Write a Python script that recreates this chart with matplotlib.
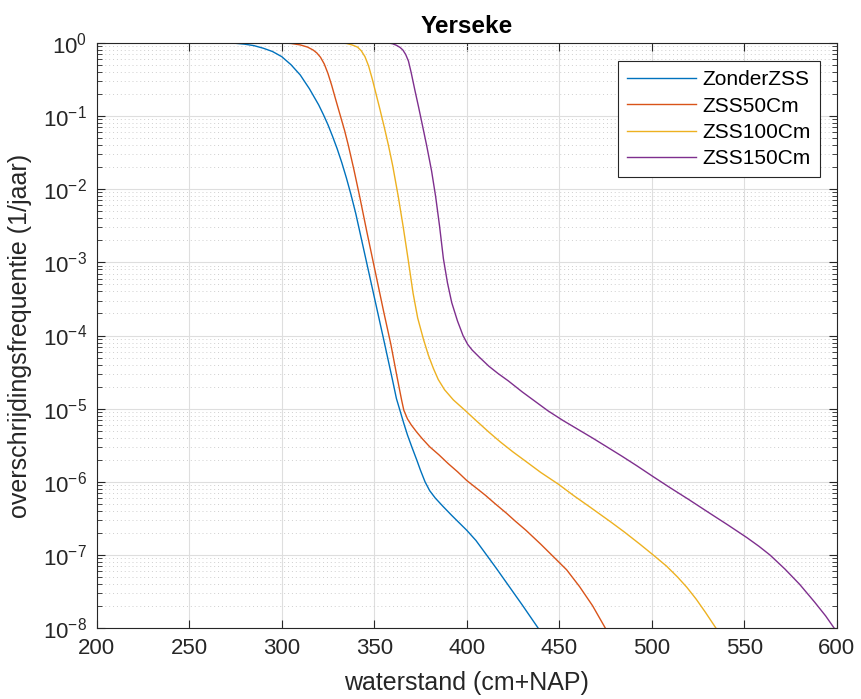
import numpy as np
import matplotlib
matplotlib.use("Agg")
import matplotlib.pyplot as plt
from matplotlib.ticker import FixedLocator, LogFormatterSciNotation, NullFormatter

plt.rcParams['font.family'] = ['Liberation Sans', 'DejaVu Sans']
plt.rcParams['mathtext.fontset'] = 'custom'
plt.rcParams['mathtext.rm'] = 'Liberation Sans'
plt.rcParams['mathtext.it'] = 'Liberation Sans:italic'

# waterstand (cm+NAP) and log10 of the exceedance frequency
zonder_x = [200, 260, 270, 275, 280, 285, 290, 295, 300, 305, 310, 315, 320, 322.5,
            325, 327.5, 330, 332.5, 335, 337.5, 340, 345, 350, 355, 360, 362, 364,
            366, 368, 370.3, 373, 375, 377.5, 380, 383, 387.4, 392, 396, 400, 405,
            410.8, 416, 423, 430, 438.7]
zonder_log = [0, 0, -0.003, -0.008, -0.02, -0.04, -0.075, -0.12, -0.19, -0.3,
              -0.44, -0.63, -0.85, -0.98, -1.12, -1.28, -1.45, -1.64, -1.85, -2.08,
              -2.33, -2.9, -3.47, -4.04, -4.62, -4.86, -5.03, -5.2, -5.36, -5.52,
              -5.7, -5.84, -6.0, -6.12, -6.22, -6.34, -6.46, -6.56, -6.66, -6.8,
              -7.0, -7.18, -7.43, -7.68, -8.0]

zss50_x = [200, 295, 300, 305, 310, 314, 317, 319, 321, 323, 325, 327, 329, 331.5,
           334, 336, 339, 342.3, 346, 350, 355, 359, 362, 364.8, 366, 368, 370, 373,
           376, 380, 385, 390, 395, 400, 405, 410, 415, 421.6, 426, 432, 440, 446.8,
           454, 461, 468, 475]
zss50_log = [0, 0, -0.003, -0.01, -0.03, -0.06, -0.1, -0.14, -0.2, -0.29, -0.42,
             -0.58, -0.76, -0.98, -1.2, -1.4, -1.73, -2.12, -2.58, -3.06, -3.66,
             -4.12, -4.52, -4.88, -5.02, -5.14, -5.22, -5.32, -5.41, -5.52, -5.63,
             -5.75, -5.86, -5.98, -6.08, -6.18, -6.29, -6.43, -6.53, -6.66, -6.85,
             -7.02, -7.2, -7.43, -7.69, -8.0]

zss100_x = [200, 330, 335, 338, 341, 343, 345, 347, 349, 351, 353, 355.5, 357.6,
            360, 363, 365.7, 368.4, 371, 373.5, 376.6, 379.3, 382, 384.6, 388,
            392.8, 399, 405, 412, 418, 425, 432, 440, 449.5, 458, 467, 477.5, 485,
            493.6, 500.9, 508, 514, 519, 524, 529, 534.8]
zss100_log = [0, 0, -0.01, -0.03, -0.06, -0.11, -0.19, -0.32, -0.5, -0.7, -0.9,
              -1.16, -1.39, -1.68, -2.1, -2.52, -2.97, -3.42, -3.76, -4.05, -4.27,
              -4.45, -4.6, -4.74, -4.88, -5.02, -5.16, -5.32, -5.45, -5.59, -5.72,
              -5.87, -6.03, -6.19, -6.35, -6.54, -6.68, -6.85, -7.0, -7.15, -7.3,
              -7.44, -7.6, -7.78, -8.0]

zss150_x = [200, 355, 358, 360, 362, 364, 365.5, 367, 368.5, 370, 372, 374, 376,
            378.4, 381, 383.2, 385.3, 387.4, 389.6, 391.9, 395, 398, 400.5, 403, 407,
            412, 417, 422.5, 430, 437, 444, 452, 460, 468, 475.7, 484, 492, 500.9,
            510, 520, 531.5, 541, 551.4, 558, 564, 572, 580, 588, 594, 598.7]
zss150_log = [0, 0, -0.005, -0.015, -0.035, -0.065, -0.1, -0.16, -0.25, -0.41,
              -0.65, -0.88, -1.12, -1.41, -1.75, -2.1, -2.5, -2.95, -3.28, -3.55,
              -3.8, -4.0, -4.12, -4.2, -4.3, -4.42, -4.52, -4.62, -4.77, -4.9, -5.03,
              -5.16, -5.28, -5.4, -5.52, -5.65, -5.78, -5.93, -6.08, -6.24, -6.43,
              -6.585, -6.76, -6.88, -7.0, -7.19, -7.4, -7.64, -7.83, -8.0]

series = [
    ("ZonderZSS", zonder_x, zonder_log, "#0072BD"),
    ("ZSS50Cm", zss50_x, zss50_log, "#D95319"),
    ("ZSS100Cm", zss100_x, zss100_log, "#EDB120"),
    ("ZSS150Cm", zss150_x, zss150_log, "#7E2F8E"),
]

x_ticks = [200, 250, 300, 350, 400, 450, 500, 550, 600]
y_decades = [-8, -7, -6, -5, -4, -3, -2, -1, 0]

fig = plt.figure(figsize=(8.61, 6.99), dpi=100)
ax = fig.add_axes([0.1123, 0.1011, 0.8595, 0.8378])

for name, xs, logs, col in series:
    ax.plot(xs, 10.0 ** np.array(logs), color=col, lw=1.0, label=name)

ax.set_yscale('log')
ax.set_xlim(200, 600)
ax.set_ylim(1e-8, 1e0)
ax.xaxis.set_major_locator(FixedLocator(x_ticks))
major_y = [10.0 ** d for d in y_decades]
minor_y = [m * 10.0 ** d for d in y_decades[:-1] for m in range(2, 10)]
ax.yaxis.set_major_locator(FixedLocator(major_y))
ax.yaxis.set_minor_locator(FixedLocator(minor_y))
ax.yaxis.set_major_formatter(LogFormatterSciNotation())
ax.yaxis.set_minor_formatter(NullFormatter())

ax.grid(True, which='major', color='#dedede', lw=0.8)
ax.grid(True, which='minor', axis='y', color='#cfcfcf', lw=0.7, ls=(0, (1, 3)))
ax.set_axisbelow(True)

dark = '#262626'
for sp in ax.spines.values():
    sp.set_color(dark)
    sp.set_linewidth(0.8)
ax.tick_params(which='both', direction='in', top=True, right=True, colors=dark,
               labelsize=16)
ax.tick_params(which='major', length=6, width=0.8, pad=7)
ax.tick_params(which='minor', length=3.5, width=0.6)

ax.set_xlabel('waterstand (cm+NAP)', fontsize=18, color=dark)
ax.xaxis.label.set_va('baseline')
ax.xaxis.set_label_coords(0.5, -0.105)
ax.set_ylabel('overschrijdingsfrequentie (1/jaar)', fontsize=18, color=dark)
ax.yaxis.set_label_coords(-0.087, 0.5)
ax.set_title('Yerseke', fontsize=17.5, fontweight='bold', color='black', pad=7)

leg = ax.legend(loc='upper right', fontsize=15, handlelength=3.3, handletextpad=0.3,
                fancybox=False, framealpha=1, edgecolor=dark, borderpad=0.45,
                labelspacing=0.35, borderaxespad=0, bbox_to_anchor=(0.9774, 0.969))
leg.get_frame().set_linewidth(0.8)

fig.savefig('out.png', dpi=100)
